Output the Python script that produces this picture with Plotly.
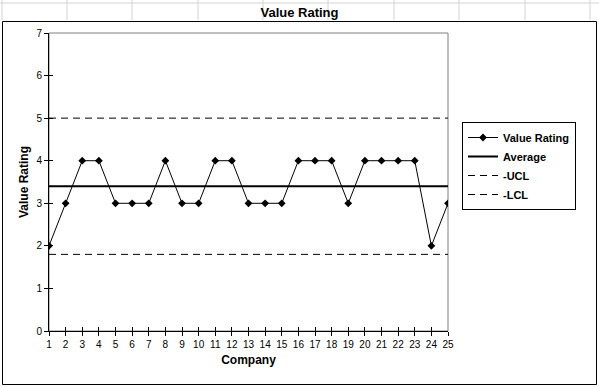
import plotly.graph_objects as go

companies = list(range(1, 26))
value_rating = [2, 3, 4, 4, 3, 3, 3, 4, 3, 3, 4, 4, 3, 3, 3, 4, 4, 4, 3, 4, 4, 4, 4, 2, 3]
average = 3.4
ucl = 5.0
lcl = 1.8
y_ticks = [0, 1, 2, 3, 4, 5, 6, 7]

W, H = 599, 387
FONT = "Liberation Sans, Arial, sans-serif"

def px_x(p):
    return p / W

def px_y(p):
    return 1 - p / H

x0, x1 = px_x(49), px_x(448)
y0, y1 = px_y(331), px_y(33)

fig = go.Figure()
xs = [companies[0], companies[-1]]
fig.add_trace(go.Scatter(x=companies, y=value_rating, mode="lines+markers", name="<b>Value Rating</b>",
                         line=dict(color="black", width=1),
                         marker=dict(symbol="diamond", size=6, color="black")))
fig.add_trace(go.Scatter(x=xs, y=[average, average], mode="lines", name="<b>Average</b>",
                         line=dict(color="black", width=2)))
fig.add_trace(go.Scatter(x=xs, y=[ucl, ucl], mode="lines", name="<b>-UCL</b>",
                         line=dict(color="black", width=1, dash="7px,5px")))
fig.add_trace(go.Scatter(x=xs, y=[lcl, lcl], mode="lines", name="<b>-LCL</b>",
                         line=dict(color="black", width=1, dash="7px,5px")))
# dummy trace to activate secondary (inside-tick) axes
fig.add_trace(go.Scatter(x=[1], y=[0], xaxis="x2", yaxis="y2", mode="markers",
                         marker=dict(opacity=0), showlegend=False, hoverinfo="skip"))

shapes = []
# spreadsheet background grid
for gx in [2, 67, 132, 198, 263, 328, 394, 459, 525, 590]:
    shapes.append(dict(type="line", xref="paper", yref="paper", x0=px_x(gx), x1=px_x(gx),
                       y0=px_y(0), y1=px_y(20), line=dict(color="#d4d4d4", width=1), layer="below"))
shapes.append(dict(type="line", xref="paper", yref="paper", x0=0, x1=1, y0=px_y(3), y1=px_y(3),
                   line=dict(color="#d4d4d4", width=1), layer="below"))
# chart frame
shapes.append(dict(type="rect", xref="paper", yref="paper", x0=px_x(2.5), x1=px_x(596.5),
                   y0=px_y(384.5), y1=px_y(21.5), line=dict(color="black", width=1),
                   fillcolor="white", layer="below"))
# plot area border (gray)
shapes.append(dict(type="rect", xref="x domain", yref="y domain", x0=0, x1=1, y0=0, y1=1,
                   line=dict(color="#808080", width=1), layer="below"))

axis_common = dict(showgrid=False, zeroline=False, linecolor="black", linewidth=1,
                   ticks="outside", ticklen=4, tickcolor="black", tickwidth=1, automargin=False,
                   tickfont=dict(family=FONT, size=10, color="black"))

fig.update_layout(
    width=W, height=H,
    margin=dict(l=0, r=0, t=0, b=0, autoexpand=False),
    paper_bgcolor="white", plot_bgcolor="rgba(0,0,0,0)",
    showlegend=True,
    shapes=shapes,
    title=dict(text="<b>Value Rating</b>", x=0.5, xanchor="center", xref="paper",
               y=px_y(12), yanchor="middle", yref="paper",
               font=dict(family=FONT, size=13, color="black")),
    xaxis=dict(domain=[x0, x1], range=[1, 25], tickvals=companies, showline=True,
               title=dict(text="<b>Company</b>", font=dict(family=FONT, size=12, color="black"), standoff=6),
               **axis_common),
    yaxis=dict(domain=[y0, y1], range=[0, 7], tickvals=y_ticks, showline=True,
               title=dict(text="<b>Value Rating</b>", font=dict(family=FONT, size=12, color="black"), standoff=5),
               **axis_common),
    xaxis2=dict(overlaying="x", range=[1, 25], tickvals=companies, showticklabels=False,
                showgrid=False, zeroline=False, ticks="inside", ticklen=4, tickcolor="black",
                showline=False, anchor="y", automargin=False),
    yaxis2=dict(overlaying="y", range=[0, 7], tickvals=y_ticks, showticklabels=False,
                showgrid=False, zeroline=False, ticks="inside", ticklen=4, tickcolor="black",
                showline=False, anchor="x", automargin=False),
    legend=dict(x=px_x(462), y=px_y(122), xanchor="left", yanchor="top",
                bordercolor="black", borderwidth=1, bgcolor="white",
                font=dict(family=FONT, size=11, color="black"),
                tracegroupgap=0, itemwidth=30),
)

fig.write_html("out.html", config={"displayModeBar": False},
               post_script="document.body.style.margin='0';")
